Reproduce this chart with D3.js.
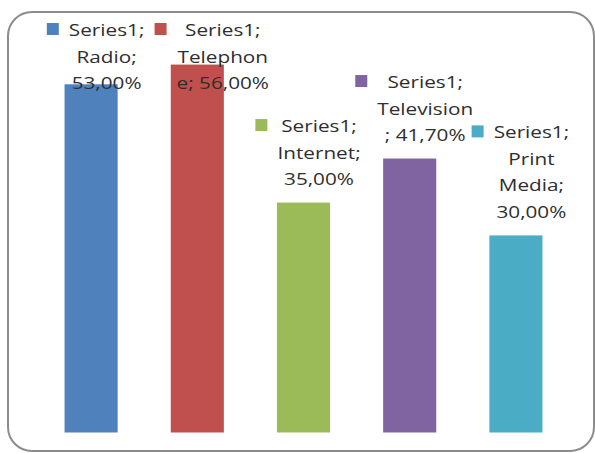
<!DOCTYPE html>
<html>
<head>
<meta charset="utf-8">
<script src="https://cdn.jsdelivr.net/npm/d3@7"></script>
<style>
  body { margin: 0; background: #fff; }
  svg { display: block; }
  text { font-family: "Open Sans", Lato, sans-serif; fill: #2e2e2e; }
</style>
</head>
<body>
<svg width="595" height="453"></svg>
<script>
// chart data
const series = 'Series1';
const categories = ['Radio', 'Telephone', 'Internet', 'Television', 'Print Media'];
const values = [53.0, 56.0, 35.0, 41.7, 30.0];
const colors = ['#4f81bd', '#c0504d', '#9bbb59', '#8064a2', '#4bacc6'];
// label text as it wraps in the picture
const labelLines = [
  ['Series1;', 'Radio;', '53,00%'],
  ['Series1;', 'Telephon', 'e; 56,00%'],
  ['Series1;', 'Internet;', '35,00%'],
  ['Series1;', 'Television', '; 41,70%'],
  ['Series1;', 'Print', 'Media;', '30,00%'],
];

const svg = d3.select('svg');

// rounded frame
svg.append('rect')
  .attr('x', 8).attr('y', 12)
  .attr('width', 586).attr('height', 439)
  .attr('rx', 24).attr('ry', 24)
  .attr('fill', '#fff')
  .attr('stroke', '#8c8c8c').attr('stroke-width', 2);

const x = d3.scaleBand()
  .domain(categories)
  .range([38, 569])
  .paddingInner(0.5).paddingOuter(0.25);

const y = d3.scaleLinear()
  .domain([0, 60])
  .range([432.5, 38.3]);

svg.append('g').selectAll('rect')
  .data(values)
  .join('rect')
  .attr('x', (d, i) => x(categories[i]))
  .attr('y', d => y(d))
  .attr('width', x.bandwidth())
  .attr('height', d => y(0) - y(d))
  .attr('fill', (d, i) => colors[i]);

// data labels with legend key (Excel style, text is stretched wide)
const fontSize = 17, sx = 1.22, lh = 26.5, keySize = 12, gap = 10;
const nudge = { Telephone: 10 };

const labels = svg.append('g');
values.forEach(function(v, i) {
  const lines = labelLines[i];
  const g = labels.append('g');
  const texts = lines.map(function(line) {
    return g.append('text')
      .attr('font-size', fontSize)
      .attr('text-anchor', 'middle')
      .text(line);
  });
  const maxW = d3.max(texts, t => t.node().getComputedTextLength()) * sx;
  const total = keySize + gap + maxW;
  const cx = x(categories[i]) + x.bandwidth() / 2 + 4.5 + (nudge[categories[i]] || 0);
  const left = cx - total / 2;
  let first = y(v) - 17.5 - (lines.length - 1) * lh;
  if (first < 36) first = 36;
  texts.forEach(function(t, j) {
    t.attr('transform', 'translate(' + (left + keySize + gap + maxW / 2) + ',' +
      (first + j * lh) + ') scale(' + sx + ',1)');
  });
  g.append('rect')
    .attr('x', left).attr('y', first - 13)
    .attr('width', keySize).attr('height', keySize)
    .attr('fill', colors[i]);
});
</script>
</body>
</html>
